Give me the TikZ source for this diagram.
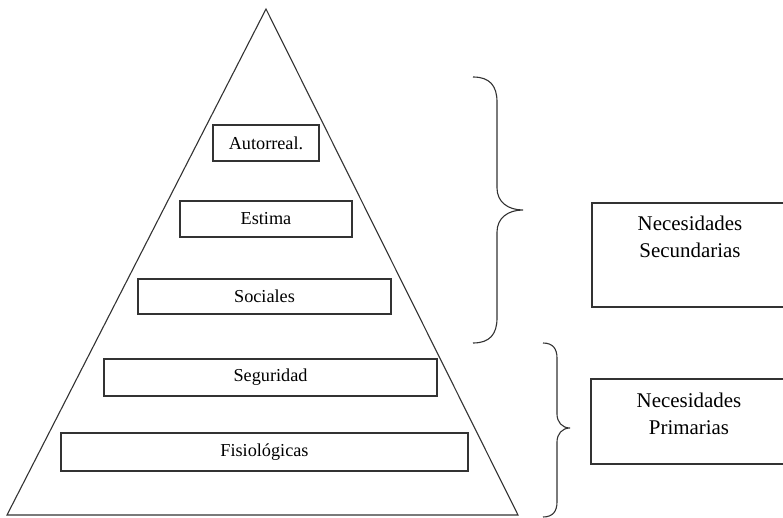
\documentclass[tikz,border=0pt]{standalone}
\usepackage{fontspec}
\setmainfont{Liberation Serif}
\begin{document}
\begin{tikzpicture}[x=1bp,y=-1bp,
  ink/.style={draw=black!80,line width=1.1bp},
  levelbox/.style={ink,rectangle,inner sep=0pt,font=\fontsize{18.3}{21}\selectfont},
  sidebox/.style={ink,rectangle,inner sep=0pt},
  sidetext/.style={align=center,inner sep=0pt,font=\fontsize{21}{27}\selectfont}]
\useasboundingbox (0,0) rectangle (783,518);
\clip (0,0) rectangle (783,518);

% pyramid outline
\coordinate (apex) at (266,9);
\coordinate (baseL) at (7,515);
\coordinate (baseR) at (518,515);
\draw[ink,line join=miter] (apex) -- (baseL) -- (baseR) -- cycle;

% levels of the pyramid
\node[levelbox,minimum width=106bp,minimum height=36bp] (autorreal) at (266,143) {Autorreal.};
\node[levelbox,minimum width=172bp,minimum height=36bp] (estima) at (266,219) {Estima};
\node[levelbox,minimum width=253bp,minimum height=35bp] (sociales) at (264.5,296.5) {Sociales};
\node[levelbox,minimum width=333bp,minimum height=37bp] (seguridad) at (270.5,377.5) {Seguridad};
\node[levelbox,minimum width=407bp,minimum height=38bp] (fisiologicas) at (264.5,452) {Fisiológicas};

% upper brace (secondary needs)
\coordinate (b1top) at (473,77);
\coordinate (b1tip) at (523,210);
\coordinate (b1bot) at (473,343);
\draw[ink] (b1top) .. controls (490,77) and (497,86) .. (497,102) -- (497,188)
  .. controls (497,202) and (508,210) .. (b1tip)
  .. controls (508,210) and (497,218) .. (497,232) -- (497,318)
  .. controls (497,334) and (490,343) .. (b1bot);

% lower brace (primary needs)
\coordinate (b2top) at (543,343);
\coordinate (b2tip) at (570,428);
\coordinate (b2bot) at (543,517);
\draw[ink] (b2top) .. controls (553,343) and (557,349) .. (557,358) -- (557,414)
  .. controls (557,422) and (562,428) .. (b2tip)
  .. controls (562,428) and (557,434) .. (557,442) -- (557,502)
  .. controls (557,511) and (553,517) .. (b2bot);

% group boxes on the right
\node[sidebox,minimum width=198bp,minimum height=104bp] (secbox) at (691,255) {};
\node[sidetext] (sectext) at (690,237) {Necesidades\\Secundarias};
\node[sidebox,minimum width=199bp,minimum height=85bp] (primbox) at (690.5,421.5) {};
\node[sidetext] (primtext) at (689,414) {Necesidades\\Primarias};
\end{tikzpicture}
\end{document}
